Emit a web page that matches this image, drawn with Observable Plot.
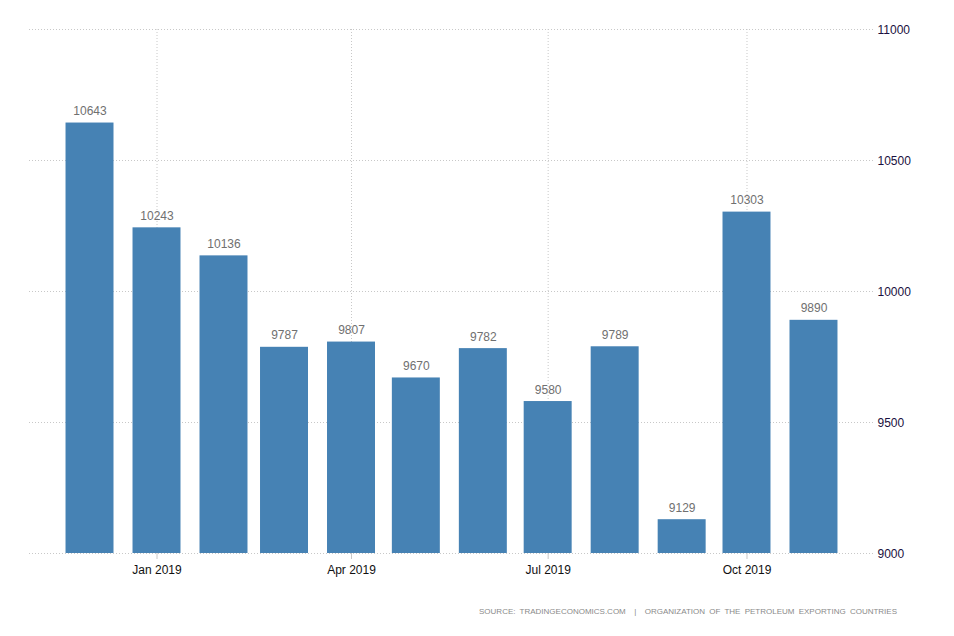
<!DOCTYPE html>
<html>
<head>
<meta charset="utf-8">
<script src="https://cdn.jsdelivr.net/npm/d3@7"></script>
<script src="https://cdn.jsdelivr.net/npm/@observablehq/plot@0.6"></script>
<style>
  body { margin: 0; background: #fff; font-family: "Liberation Sans", Arial, sans-serif; }
  #chart { width: 954px; }
  #source { width: 954px; box-sizing: border-box; padding-right: 57px; text-align: right;
    font-size: 8px; letter-spacing: 0; word-spacing: 2px; color: #8a8a8a; margin-top: 17px; }
</style>
</head>
<body>
<div id="chart"></div>
<div id="source">SOURCE: TRADINGECONOMICS.COM&nbsp; |&nbsp; ORGANIZATION OF THE PETROLEUM EXPORTING COUNTRIES</div>
<script>
const months = ["2018-12-01","2019-01-01","2019-02-01","2019-03-01","2019-04-01","2019-05-01","2019-06-01","2019-07-01","2019-08-01","2019-09-01","2019-10-01","2019-11-01"];
const values = [10643, 10243, 10136, 9787, 9807, 9670, 9782, 9580, 9789, 9129, 10303, 9890];
const xTicks = ["2019-01-01","2019-04-01","2019-07-01","2019-10-01"];
const yTicks = [9000, 9500, 10000, 10500, 11000];

const halfBar = 11.1 * 864e5;
const data = months.map((m, i) => {
  const d = new Date(m + "T00:00:00Z");
  return {date: d, x1: new Date(+d - halfBar), x2: new Date(+d + halfBar), value: values[i]};
});
const xt = xTicks.map(s => new Date(s + "T00:00:00Z"));

const chart = Plot.plot({
  width: 954,
  height: 590,
  marginTop: 29,
  marginBottom: 37,
  marginLeft: 29,
  marginRight: 80,
  style: {fontFamily: "'Liberation Sans', Arial, sans-serif", fontSize: "12px", background: "#fff"},
  x: {type: "utc", domain: [new Date("2018-11-03T00:00:00Z"), new Date("2019-11-29T00:00:00Z")]},
  y: {domain: [9000, 11000]},
  marks: [
    Plot.gridY(yTicks, {stroke: "#c8c8c8", strokeOpacity: 1, strokeDasharray: "1,2"}),
    Plot.gridX(xt, {stroke: "#c8c8c8", strokeOpacity: 1, strokeDasharray: "1,2"}),
    Plot.rectY(data, {x1: "x1", x2: "x2", y1: 9000, y2: "value", fill: "#4682b4"}),
    Plot.text(data, {x: "date", y: "value", text: d => String(d.value), lineAnchor: "bottom", dy: -8, fill: "#707070", fontSize: 12}),
    Plot.axisY(yTicks, {anchor: "right", tickSize: 0, tickPadding: 3, textAnchor: "start", dy: 1, fill: "#1a1040", fontSize: 12, label: null, tickFormat: d3.format("d")}),
    Plot.axisX(xt, {anchor: "bottom", tickSize: 6, stroke: "#c8c8c8", tickPadding: 6, fill: "#111", fontSize: 12, label: null, tickFormat: d3.utcFormat("%b %Y")})
  ]
});
document.getElementById("chart").appendChild(chart);
</script>
</body>
</html>
